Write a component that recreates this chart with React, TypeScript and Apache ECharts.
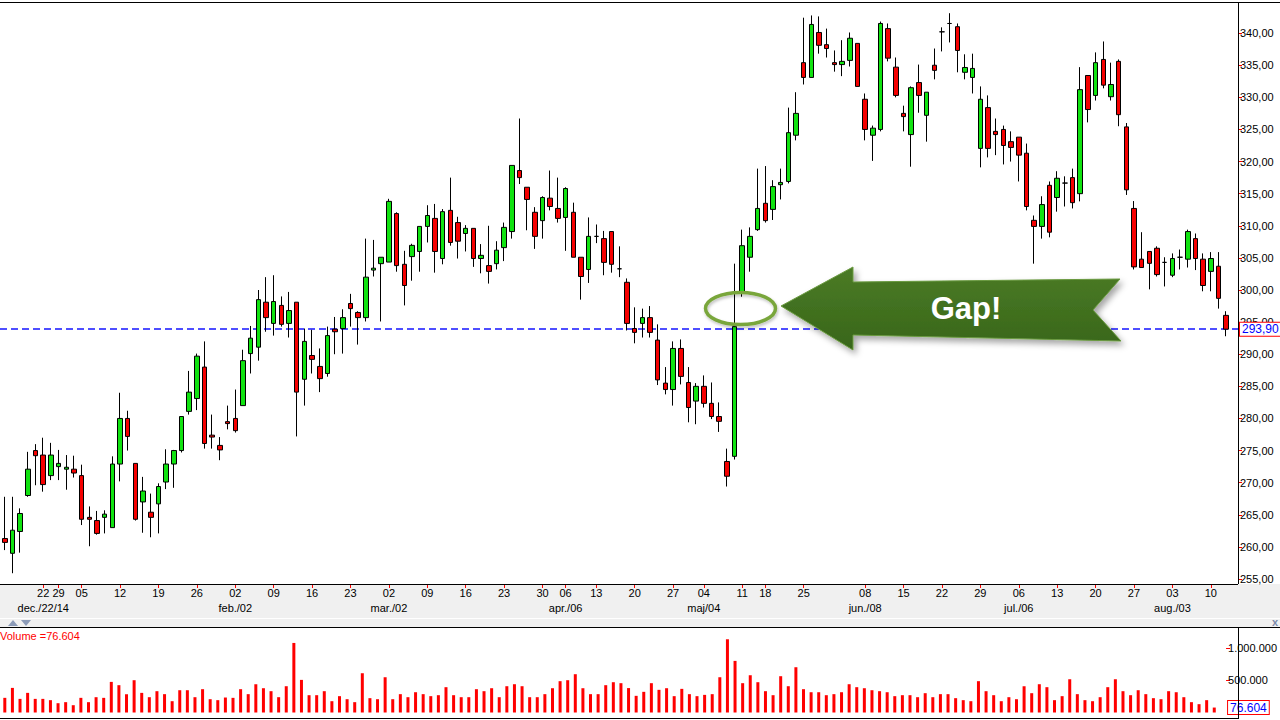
import React, { useEffect, useRef } from "react";
import * as echarts from "echarts";

// Trading days (categories)
const dates = [
  "2014-12-15","2014-12-16","2014-12-17","2014-12-18","2014-12-19","2014-12-22","2014-12-23","2014-12-29","2014-12-30","2015-01-02",
  "2015-01-05","2015-01-06","2015-01-07","2015-01-08","2015-01-09","2015-01-12","2015-01-13","2015-01-14","2015-01-15","2015-01-16",
  "2015-01-19","2015-01-20","2015-01-21","2015-01-22","2015-01-23","2015-01-26","2015-01-27","2015-01-28","2015-01-29","2015-01-30",
  "2015-02-02","2015-02-03","2015-02-04","2015-02-05","2015-02-06","2015-02-09","2015-02-10","2015-02-11","2015-02-12","2015-02-13",
  "2015-02-16","2015-02-17","2015-02-18","2015-02-19","2015-02-20","2015-02-23","2015-02-24","2015-02-25","2015-02-26","2015-02-27",
  "2015-03-02","2015-03-03","2015-03-04","2015-03-05","2015-03-06","2015-03-09","2015-03-10","2015-03-11","2015-03-12","2015-03-13",
  "2015-03-16","2015-03-17","2015-03-18","2015-03-19","2015-03-20","2015-03-23","2015-03-24","2015-03-25","2015-03-26","2015-03-27",
  "2015-03-30","2015-03-31","2015-04-01","2015-04-07","2015-04-08","2015-04-09","2015-04-10","2015-04-13","2015-04-14","2015-04-15",
  "2015-04-16","2015-04-17","2015-04-20","2015-04-21","2015-04-22","2015-04-23","2015-04-24","2015-04-27","2015-04-28","2015-04-29",
  "2015-04-30","2015-05-04","2015-05-05","2015-05-06","2015-05-07","2015-05-08","2015-05-11","2015-05-12","2015-05-13","2015-05-18",
  "2015-05-19","2015-05-20","2015-05-21","2015-05-22","2015-05-26","2015-05-27","2015-05-28","2015-05-29","2015-06-01","2015-06-02",
  "2015-06-03","2015-06-04","2015-06-08","2015-06-09","2015-06-10","2015-06-11","2015-06-12","2015-06-15","2015-06-16","2015-06-17",
  "2015-06-18","2015-06-19","2015-06-22","2015-06-23","2015-06-24","2015-06-25","2015-06-26","2015-06-29","2015-06-30","2015-07-01",
  "2015-07-02","2015-07-03","2015-07-06","2015-07-07","2015-07-08","2015-07-09","2015-07-10","2015-07-13","2015-07-14","2015-07-15",
  "2015-07-16","2015-07-17","2015-07-20","2015-07-21","2015-07-22","2015-07-23","2015-07-24","2015-07-27","2015-07-28","2015-07-29",
  "2015-07-30","2015-07-31","2015-08-03","2015-08-04","2015-08-05","2015-08-06","2015-08-07","2015-08-10","2015-08-11","2015-08-12",
];

// [open, close, low, high]
const candles = [
  [261.3,260.7,259.5,267.8],[259.0,262.6,255.9,267.8],[262.4,265.2,259.1,266.0],[268.0,272.1,267.8,274.8],[275.0,274.2,269.6,276.0],
  [274.3,269.7,268.6,277.0],[271.1,274.3,270.4,276.2],[272.5,273.0,270.4,275.1],[272.1,272.4,268.9,274.3],[272.1,271.5,270.8,274.2],
  [271.1,264.3,263.4,272.8],[264.6,264.3,260.1,266.3],[264.1,262.1,261.9,265.6],[264.6,265.1,262.1,265.7],[263.0,272.9,263.0,274.1],
  [272.9,280.0,270.2,284.0],[280.0,277.2,275.0,281.2],[273.0,264.3,264.1,273.0],[267.0,268.7,262.2,270.9],[265.4,264.6,261.5,268.3],
  [266.7,269.4,262.1,269.9],[270.1,272.9,269.0,275.2],[272.9,275.0,269.2,275.1],[275.0,280.3,274.7,280.3],[281.1,284.1,280.6,287.4],
  [283.1,289.7,281.3,290.1],[288.0,276.1,275.3,292.0],[277.4,277.1,275.3,280.6],[275.8,275.1,273.5,277.1],[279.5,279.2,278.3,282.0],
  [280.0,278.1,277.8,284.5],[282.0,289.0,282.0,290.7],[290.1,292.5,287.0,294.4],[291.1,298.5,289.0,300.0],[298.1,295.7,293.5,302.0],
  [294.8,298.2,292.9,302.3],[297.6,294.65,294.3,299.0],[294.8,296.8,292.6,299.7],[298.1,284.1,277.2,298.1],[286.1,292.0,282.0,294.0],
  [289.8,289.2,287.0,293.8],[288.1,286.2,284.1,290.9],[287.0,292.9,286.5,294.3],[293.9,293.5,290.0,295.8],[294.0,295.7,290.1,297.0],
  [297.9,297.1,294.3,299.4],[296.5,295.7,291.5,296.7],[295.7,302.0,295.1,308.0],[303.1,303.4,302.1,307.8],[304.1,305.1,295.1,305.1],
  [304.35,313.8,304.35,314.2],[311.9,303.8,302.85,312.1],[304.0,300.7,297.6,306.1],[305.2,306.95,301.45,307.2],[306.0,309.9,302.85,309.9],
  [309.9,311.6,307.4,313.2],[311.15,306.0,302.7,313.4],[304.9,312.2,304.0,312.6],[312.4,307.4,306.9,317.5],[310.5,307.6,304.9,311.4],
  [308.8,309.6,306.0,310.1],[309.6,304.9,303.6,309.6],[304.9,305.4,302.6,307.15],[303.8,302.9,301.0,310.0],[304.1,306.2,303.2,307.6],
  [306.6,309.75,304.5,310.5],[309.1,319.4,308.0,319.4],[318.6,317.5,316.5,326.7],[316.0,314.1,309.3,316.0],[312.1,308.35,306.4,312.9],
  [310.8,314.4,308.0,314.6],[314.3,313.0,312.4,318.6],[312.7,311.15,310.5,317.5],[311.3,315.8,306.1,316.0],[312.1,305.1,305.1,313.6],
  [305.1,302.1,298.5,305.1],[303.2,308.35,301.1,311.3],[308.35,308.35,307.3,310.2],[308.0,304.3,302.3,309.2],[309.1,304.0,302.7,309.1],
  [303.3,303.3,302.0,306.8],[301.2,294.8,293.7,301.8],[294.0,293.4,291.7,297.3],[294.8,295.7,292.6,297.1],[295.7,293.4,292.6,297.5],
  [292.2,286.0,285.2,294.65],[285.5,284.5,283.75,288.0],[284.5,290.9,282.0,292.0],[290.9,286.55,285.3,292.3],[285.6,281.7,279.4,288.0],
  [282.7,285.0,279.1,285.5],[285.0,282.35,281.7,286.7],[282.35,280.3,279.9,285.6],[280.3,279.55,277.9,282.5],[273.3,271.0,269.4,275.3],
  [274.1,294.3,273.6,304.1],[299.6,306.9,298.95,309.4],[305.1,308.35,302.85,309.75],[309.4,312.7,309.2,318.9],[313.5,310.8,310.5,319.3],
  [312.55,316.1,310.9,317.1],[316.4,316.75,314.1,318.9],[316.9,324.5,316.6,328.4],[324.1,327.5,323.3,330.8],[335.4,333.1,332.0,342.4],
  [333.1,341.35,333.1,342.75],[340.1,338.1,336.8,342.6],[338.2,337.6,336.2,340.7],[335.4,335.1,334.0,337.3],[335.1,335.6,333.3,338.9],
  [335.75,339.2,334.8,340.1],[338.4,331.7,331.7,338.4],[329.7,325.0,323.3,330.6],[324.1,325.2,320.1,325.6],[325.0,341.5,324.7,341.8],
  [340.7,336.1,335.6,341.5],[334.7,330.3,330.0,336.2],[327.5,327.0,324.7,328.7],[324.2,331.5,319.2,331.7],[332.3,330.3,327.6,335.1],
  [327.2,330.8,323.1,330.8],[335.0,334.2,332.8,337.6],[340.2,340.2,337.15,340.9],[341.5,341.5,338.55,343.1],[341.0,337.3,333.9,341.5],
  [333.9,334.65,332.8,336.7],[333.1,334.5,330.6,336.8],[322.05,329.7,319.1,331.7],[328.4,322.05,320.65,330.3],[324.7,324.2,321.0,326.7],
  [325.0,322.5,319.55,325.6],[323.1,322.2,320.0,324.7],[323.8,321.0,316.9,323.8],[321.3,313.0,312.4,322.8],[310.85,309.9,304.1,311.6],
  [309.9,313.3,308.0,314.6],[316.3,309.0,308.2,316.9],[314.4,317.4,312.2,318.5],[316.65,316.65,313.0,317.7],[317.5,313.6,312.7,318.9],
  [315.0,331.2,313.8,334.7],[333.4,328.1,326.1,333.4],[330.3,335.4,329.5,337.0],[335.9,331.9,331.4,338.7],[330.1,332.0,329.5,335.4],
  [335.6,327.3,325.5,335.9],[325.4,315.6,314.8,326.0],[312.7,303.6,303.2,313.85],[304.8,303.5,303.5,309.0],[306.0,304.15,300.1,306.0],
  [306.5,302.4,302.1,306.8],[304.3,304.3,300.55,305.1],[302.3,304.9,302.0,305.7],[305.1,305.1,303.2,306.3],[304.8,309.1,303.5,309.4],
  [308.0,304.9,303.1,308.8],[304.8,300.7,299.8,305.7],[302.9,304.9,299.8,305.9],[303.7,298.7,297.1,305.9],[296.05,293.9,292.8,296.7],
];

const volume = [
  227000,381000,211000,304000,211000,211000,191000,144000,160000,113000,
  227000,160000,237000,227000,474000,423000,284000,500000,304000,237000,
  330000,284000,175000,345000,345000,237000,361000,206000,191000,232000,
  227000,361000,284000,438000,376000,330000,237000,407000,1077000,505000,
  268000,268000,330000,175000,253000,206000,160000,608000,222000,206000,
  546000,206000,284000,237000,314000,284000,253000,268000,392000,268000,
  237000,237000,361000,330000,376000,237000,407000,438000,407000,237000,
  237000,284000,376000,485000,500000,593000,376000,284000,284000,423000,
  469000,454000,378000,258000,320000,454000,351000,376000,253000,366000,
  284000,253000,273000,284000,546000,1134000,799000,454000,577000,469000,
  330000,268000,562000,407000,701000,361000,314000,314000,268000,284000,
  314000,438000,392000,376000,345000,330000,314000,253000,268000,268000,
  237000,299000,237000,284000,284000,222000,191000,175000,485000,330000,
  268000,175000,237000,206000,407000,299000,438000,392000,191000,253000,
  515000,284000,191000,175000,237000,392000,515000,330000,268000,345000,
  284000,222000,206000,330000,314000,237000,160000,129000,191000,76604,
];

// Week tick labels (first trading day of each week) and month labels
const dayTickDates = [
  "2014-12-22","2014-12-29","2015-01-05","2015-01-12","2015-01-19","2015-01-26","2015-02-02","2015-02-09","2015-02-16","2015-02-23",
  "2015-03-02","2015-03-09","2015-03-16","2015-03-23","2015-03-30","2015-04-07","2015-04-13","2015-04-20","2015-04-27","2015-05-04",
  "2015-05-11","2015-05-18","2015-05-26","2015-06-08","2015-06-15","2015-06-22","2015-06-29","2015-07-06","2015-07-13","2015-07-20",
  "2015-07-27","2015-08-03","2015-08-10",
];
const dayTickLabels = [
  "22","29","05","12","19","26","02","09","16","23",
  "02","09","16","23","30","06","13","20","27","04",
  "11","18","25","08","15","22","29","06","13","20",
  "27","03","10",
];
const monthTickDates = ["2014-12-22","2015-02-02","2015-03-02","2015-04-07","2015-05-04","2015-06-08","2015-07-06","2015-08-03"];
const monthTickLabels = ["dec./22/14","feb./02","mar./02","apr./06","maj/04","jun./08","jul./06","aug./03"];

const volumeTicks = [500000, 1000000];

const FONT = '"Liberation Sans", Arial, sans-serif';
const fmtPrice = (v: number) => v.toFixed(2).replace(".", ",");
const fmtVol = (v: number) => Math.round(v).toString().replace(/\B(?=(\d{3})+(?!\d))/g, ".");

export default function App() {
  const ref = useRef<HTMLDivElement>(null);

  useEffect(() => {
    if (!ref.current) return;
    const chart = echarts.init(ref.current, null, { renderer: "svg" });

    const dayMap: Record<string, string> = {};
    dayTickDates.forEach((d, i) => (dayMap[d] = dayTickLabels[i]));
    const monthMap: Record<string, string> = {};
    monthTickDates.forEach((d, i) => (monthMap[d] = monthTickLabels[i]));
    const dayFn = (_i: number, v: string) => dayMap[v] !== undefined;
    const monthFn = (_i: number, v: string) => monthMap[v] !== undefined;

    const lastClose = candles[candles.length - 1][1];
    const lastVol = volume[volume.length - 1];

    const boxLabel = {
      show: true,
      position: "end",
      distance: 10,
      color: "#0000ff",
      fontSize: 12,
      fontFamily: FONT,
      backgroundColor: "#ffffff",
      borderColor: "#ff0000",
      borderWidth: 1,
      padding: [1, 2, 0, 2],
    };

    const line = (x1: number, y1: number, x2: number, y2: number, color = "#000", z = 50) => ({
      type: "line",
      shape: { x1, y1, x2, y2 },
      style: { stroke: color, lineWidth: 1 },
      z,
      silent: true,
    });

    const elements: any[] = [
      { type: "rect", shape: { x: 0, y: 584, width: 1280, height: 43 }, style: { fill: "#f0f0f0" }, z: -10, silent: true },
      line(0, 618.5, 1280, 618.5, "#ffffff", -5),
      { type: "polygon", shape: { points: [[8, 626], [13, 620], [18, 626]] }, style: { fill: "#8c9bb8" }, z: 50 },
      { type: "polygon", shape: { points: [[21, 620], [31, 620], [26, 626]] }, style: { fill: "#8c9bb8" }, z: 50 },
      {
        type: "text",
        x: 1275,
        y: 622,
        style: { text: "x", fill: "#7b8bab", font: `bold 11px ${FONT}`, textAlign: "center", textVerticalAlign: "middle", align: "center", verticalAlign: "middle" },
        z: 50,
      },
      line(0, 2.5, 1280, 2.5),
      line(1238.5, 2, 1238.5, 584),
      line(0, 584.5, 1238, 584.5),
      line(0, 627.5, 1280, 627.5),
      line(0, 718.5, 1238, 718.5),
      line(1238.5, 627, 1238.5, 719),
      {
        type: "text",
        x: 0,
        y: 630,
        style: { text: `Volume =${fmtVol(lastVol)}`, fill: "#ff0000", font: `11px ${FONT}` },
        z: 50,
      },
      {
        type: "ellipse",
        shape: { cx: 740.5, cy: 308.5, rx: 35, ry: 16 },
        style: { fill: "none", stroke: "#79a63b", lineWidth: 3.5, shadowBlur: 3, shadowColor: "rgba(0,0,0,0.25)", shadowOffsetX: 1, shadowOffsetY: 2 },
        z: 100,
      },
      {
        type: "polygon",
        shape: {
          points: [[781, 306], [853, 267], [853, 282], [1120, 279], [1093, 310], [1121, 341], [853, 335], [853, 350]],
        },
        style: {
          fill: new echarts.graphic.LinearGradient(0, 0, 0, 1, [
            { offset: 0, color: "#4b7b26" },
            { offset: 1, color: "#386619" },
          ]),
          stroke: "#6a9a40",
          lineWidth: 1,
          shadowBlur: 6,
          shadowColor: "rgba(0,0,0,0.35)",
          shadowOffsetX: 3,
          shadowOffsetY: 4,
        },
        z: 100,
      },
      {
        type: "text",
        x: 966,
        y: 308,
        style: {
          text: "Gap!",
          fill: "#ffffff",
          font: `bold 31px ${FONT}`,
          textAlign: "center",
          textVerticalAlign: "middle",
          align: "center",
          verticalAlign: "middle",
        },
        z: 101,
      },
    ];

    const option: any = {
      animation: false,
      backgroundColor: "#ffffff",
      textStyle: { fontFamily: FONT },
      grid: [
        { left: 1, width: 1229, top: 1, height: 578 },
        { left: 1, width: 1229, top: 635, height: 77.5 },
      ],
      xAxis: [
        {
          gridIndex: 0,
          type: "category",
          data: dates,
          position: "bottom",
          offset: 5,
          boundaryGap: true,
          axisLine: { show: false },
          axisTick: { show: true, interval: dayFn, alignWithLabel: true, length: 4, lineStyle: { color: "#ff0000" } },
          axisLabel: { interval: dayFn, formatter: (v: string) => dayMap[v] || "", margin: 3, fontSize: 11, color: "#000", fontFamily: FONT },
          splitLine: { show: false },
        },
        {
          gridIndex: 0,
          type: "category",
          data: dates,
          position: "bottom",
          offset: 5,
          boundaryGap: true,
          axisLine: { show: false },
          axisTick: { show: false },
          axisLabel: { interval: monthFn, formatter: (v: string) => monthMap[v] || "", margin: 18, fontSize: 11, color: "#000", fontFamily: FONT },
          splitLine: { show: false },
        },
        {
          gridIndex: 1,
          type: "category",
          data: dates,
          boundaryGap: true,
          axisLine: { show: false },
          axisTick: { show: false },
          axisLabel: { show: false },
          splitLine: { show: false },
        },
      ],
      yAxis: [
        {
          gridIndex: 0,
          type: "value",
          position: "right",
          offset: 8,
          min: 255,
          max: 345,
          interval: 5,
          axisLine: { show: false },
          axisTick: { show: true, length: 4, lineStyle: { color: "#ff0000" } },
          axisLabel: { margin: 2, fontSize: 11, color: "#000", fontFamily: FONT, showMaxLabel: false, formatter: (v: number) => fmtPrice(v) },
          splitLine: { show: false },
        },
        {
          gridIndex: 1,
          type: "value",
          position: "right",
          offset: 8,
          min: 0,
          max: 1200000,
          axisLine: { show: false },
          axisTick: { show: true, length: 4, lineStyle: { color: "#ff0000" }, customValues: volumeTicks },
          axisLabel: { margin: 2, fontSize: 11, color: "#000", fontFamily: FONT, customValues: volumeTicks, formatter: (v: number) => fmtVol(v) },
          splitLine: { show: false },
        },
      ],
      series: [
        {
          type: "candlestick",
          xAxisIndex: 0,
          yAxisIndex: 0,
          data: candles,
          barWidth: 5,
          z: 3,
          itemStyle: {
            color: "#11e311",
            color0: "#f50000",
            borderColor: "#000000",
            borderColor0: "#000000",
            borderColorDoji: "#000000",
            borderWidth: 1,
          },
          markLine: {
            silent: true,
            symbol: ["none", "none"],
            data: [{ yAxis: lastClose }],
            lineStyle: { color: "rgba(0,0,0,0)", width: 0 },
            label: { ...boxLabel, formatter: () => fmtPrice(lastClose) },
          },
        },
        {
          type: "bar",
          xAxisIndex: 2,
          yAxisIndex: 1,
          data: volume,
          barWidth: 3,
          itemStyle: { color: "#ff0000" },
          markLine: {
            silent: true,
            symbol: ["none", "none"],
            data: [{ yAxis: lastVol }],
            lineStyle: { color: "rgba(0,0,0,0)", width: 0 },
            label: { ...boxLabel, formatter: () => fmtVol(lastVol) },
          },
        },
      ],
      graphic: { elements },
    };

    chart.setOption(option);

    // Blue dashed last-price line, positioned through the price axis scale
    const yLast = chart.convertToPixel({ yAxisIndex: 0 }, lastClose) as number;
    const yl = Math.round(yLast);
    chart.setOption({
      graphic: {
        elements: [
          ...elements,
          {
            type: "line",
            shape: { x1: 0, y1: yl, x2: 1238, y2: yl },
            style: { stroke: "#1414ff", lineWidth: 1.6, lineDash: [7, 4] },
            z: 1,
            silent: true,
          },
        ],
      },
    });

    return () => chart.dispose();
  }, []);

  return (
    <div
      ref={ref}
      style={{ position: "fixed", left: 0, top: 0, width: 1280, height: 720, background: "#fff" }}
    />
  );
}
